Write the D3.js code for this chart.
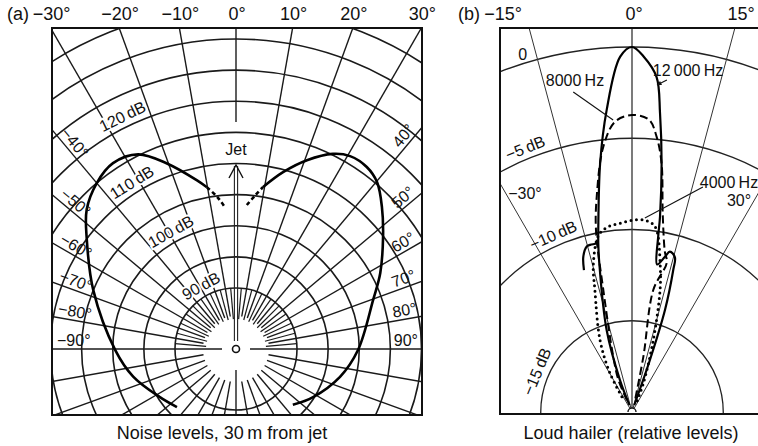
<!DOCTYPE html>
<html><head><meta charset="utf-8">
<script src="https://cdn.jsdelivr.net/npm/d3@7"></script>
<style>
body{margin:0;background:#fff}
svg{display:block}
text{font-family:"Liberation Sans",Arial,Helvetica,sans-serif;fill:#111}
</style>
</head><body>
<svg id="c" width="758" height="446"></svg>
<script>
// ---------- DATA ----------
// Panel (a): jet noise, angle (deg from jet axis) and level (dB)
const topAnglesA = [-30, -20, -10, 0, 10, 20, 30];
const sideAnglesLeftA = [-40, -50, -60, -70, -80, -90];
const sideAnglesRightA = [40, 50, 60, 70, 80, 90];
const ringsA = [90, 95, 100, 105, 110, 115, 120, 125, 130, 135];
const ringLabelValuesA = [90, 100, 110, 120];
const jetLeftSolid = [[-134.5,93.5],[-122,94.7],[-105,97.3],[-90.5,99.6],[-67.6,105],[-53.8,109.9],[-47,113],[-40,115],[-33.5,116],[-26.7,115.2],[-20.4,112],[-13,108],[-10.2,106.6]];
const jetLeftDashed = [[-10.2,106.6],[-7,104.8],[-4.4,103]];
const jetRightDashed = [[4.3,103.4],[7,105],[9.5,106.6]];
const jetRightSolid = [[9.5,106.6],[14.9,109.6],[20.6,112.6],[26.4,115.2],[30.6,116.2],[35.7,116.2],[40.2,115.3],[45.8,112.9],[52.7,109.9],[62.2,106.4],[70.3,103.6],[90.5,99.8],[105,97.5],[122,94.8],[134.5,93]];

// Panel (b): loud hailer, angle (deg) and relative level (dB)
const ringsB = [0, -5, -10, -15];
const spokesB = [-30, -15, 0, 15, 30];
const hz12000 = [[-20,-19.6],[-20.6,-18.1],[-17.2,-15.3],[-12.4,-11.66],[-11.3,-10.57],[-10.5,-9.86],[-7.3,-6.26],[-4.8,-3.4],[-1.9,-0.52],[0,0],[1.9,-0.52],[4.2,-1.6],[5.36,-3.56],[6.8,-6.3],[8.16,-9.19],[8.5,-10.3],[9.65,-11.8],[12,-11.3],[13.3,-10.97],[15.5,-11.2],[16.2,-11.9],[17.9,-14.1],[19,-17],[18,-19.6]];
const hz12000Hook = [[-11.3,-10.57],[-14.1,-10.56],[-15.3,-10.6],[-17.4,-11.08],[-18.7,-11.79]];
const hz8000 = [[-23,-19.3],[-23,-18.1],[-18.7,-16.8],[-13.2,-13.1],[-11.2,-9.84],[-9.3,-8.04],[-6.17,-5.38],[-3.35,-4.07],[0,-3.73],[3.3,-3.95],[5.1,-4.85],[6.8,-6.3],[8.8,-9.0],[11.5,-11.0],[13.1,-11.6],[9.9,-13.2],[11.6,-16.9],[14,-19.3]];
const hz4000 = [[-33.7,-19],[-29.4,-17.5],[-24,-15.7],[-16.9,-13],[-14.6,-11.6],[-10.5,-10.1],[-7,-9.75],[-3.6,-9.64],[0,-9.5],[3.4,-9.46],[6,-9.6],[7.7,-9.93],[10.7,-11.7],[12.9,-13.1],[16.5,-15.9],[21.5,-18.3],[25,-19.4]];

// ---------- DRAWING ----------
const svg = d3.select("#c");
const R = Math.PI / 180;
const pol = (cx, cy, r, a) => [cx + r * Math.sin(a * R), cy - r * Math.cos(a * R)];

// ===== Panel (a) =====
const A = {x0: 52, y0: 28, x1: 422, y1: 415, cx: 236, cy: 349};
const rA = d3.scaleLinear().domain([90, 130]).range([61, 310]);
svg.append("clipPath").attr("id", "clipA").append("rect")
  .attr("x", A.x0).attr("y", A.y0).attr("width", A.x1 - A.x0).attr("height", A.y1 - A.y0);
const gA = svg.append("g").attr("clip-path", "url(#clipA)");
const gAc = gA.append("g").attr("transform", `translate(${A.cx},${A.cy})`);

gAc.selectAll("circle.ring").data(ringsA).join("circle")
  .attr("r", d => rA(d)).attr("fill", "none").attr("stroke", "#1a1a1a").attr("stroke-width", 1.6);

const spokeA = d3.range(-170, 181, 10).filter(a => a !== 0);
const innerR = a => Math.abs(a) === 90 ? 14 : (a === 180 ? 21 : 33);
gAc.selectAll("line.sp").data(spokeA).join("line")
  .attr("x1", a => pol(0, 0, innerR(a), a)[0]).attr("y1", a => pol(0, 0, innerR(a), a)[1])
  .attr("x2", a => pol(0, 0, 520, a)[0]).attr("y2", a => pol(0, 0, 520, a)[1])
  .attr("stroke", "#1a1a1a").attr("stroke-width", 1.4);
const fineA = d3.range(-85, 90, 10);
gAc.selectAll("line.fs").data(fineA).join("line")
  .attr("x1", a => pol(0, 0, 30, a)[0]).attr("y1", a => pol(0, 0, 30, a)[1])
  .attr("x2", a => pol(0, 0, 61, a)[0]).attr("y2", a => pol(0, 0, 61, a)[1])
  .attr("stroke", "#1a1a1a").attr("stroke-width", 1.2);
gAc.append("line").attr("x1", 0).attr("y1", -227).attr("x2", 0).attr("y2", -400)
  .attr("stroke", "#1a1a1a").attr("stroke-width", 1.4);

// jet arrow
gAc.append("line").attr("x1", -1.6).attr("x2", -1.6).attr("y1", -8).attr("y2", -183).attr("stroke", "#222").attr("stroke-width", 1.1);
gAc.append("line").attr("x1", 1.6).attr("x2", 1.6).attr("y1", -8).attr("y2", -183).attr("stroke", "#222").attr("stroke-width", 1.1);
gAc.append("path").attr("d", "M-7,-171 L0,-184 L7,-171").attr("fill", "none").attr("stroke", "#111").attr("stroke-width", 1.4);
gAc.append("circle").attr("r", 3.5).attr("fill", "#fff").attr("stroke", "#111").attr("stroke-width", 1.6);

const lineA = d3.lineRadial().angle(d => d[0] * R).radius(d => rA(d[1])).curve(d3.curveCatmullRom.alpha(0.5));
[[jetLeftSolid, null], [jetRightSolid, null], [jetLeftDashed, "4,3"], [jetRightDashed, "4,3"]].forEach(([d, dash]) => {
  gAc.append("path").attr("d", lineA(d)).attr("fill", "none").attr("stroke", "#000")
    .attr("stroke-width", 2.6).attr("stroke-dasharray", dash);
});

svg.append("rect").attr("x", A.x0).attr("y", A.y0).attr("width", A.x1 - A.x0).attr("height", A.y1 - A.y0)
  .attr("fill", "none").attr("stroke", "#111").attr("stroke-width", 2);

// labels (a)
svg.append("text").attr("x", 7).attr("y", 20).attr("font-size", 18).text("(a)");
svg.selectAll("text.ta").data(topAnglesA).join("text")
  .attr("x", a => A.cx + (A.cy - A.y0) * Math.tan(a * R) + 1).attr("y", 20)
  .attr("text-anchor", "middle").attr("font-size", 18)
  .text(a => (a < 0 ? "\u2212" + (-a) : a) + "\u00b0");
sideAnglesRightA.forEach(a => {
  const r = (418 - A.cx) / Math.sin(a * R);
  const p = pol(A.cx, A.cy, r, a);
  const n = [-Math.cos(a * R), -Math.sin(a * R)];
  const x = p[0] + 9 * n[0], y = p[1] + 9 * n[1];
  svg.append("text").attr("x", x).attr("y", y).attr("text-anchor", "end").attr("dominant-baseline", "central")
    .attr("font-size", 16).attr("transform", `rotate(${a - 90},${x},${y})`)
    .text(a + "\u00b0");
});
sideAnglesLeftA.forEach(a => {
  const t = -a;
  const r = (A.cx - 57) / Math.sin(t * R);
  const p = pol(A.cx, A.cy, r, a);
  const n = [Math.cos(t * R), -Math.sin(t * R)];
  const x = p[0] + 9 * n[0], y = p[1] + 9 * n[1];
  svg.append("text").attr("x", x).attr("y", y).attr("text-anchor", "start").attr("dominant-baseline", "central")
    .attr("font-size", 16).attr("transform", `rotate(${90 - t},${x},${y})`)
    .text("\u2212" + t + "\u00b0");
});
const ringLabelAngle = {90: -29, 100: -29, 110: -32, 120: -26};
ringLabelValuesA.forEach(v => {
  const a = ringLabelAngle[v];
  const p = pol(A.cx, A.cy, rA(v) + 11, a);
  svg.append("text").attr("x", p[0]).attr("y", p[1]).attr("text-anchor", "middle").attr("dominant-baseline", "central")
    .attr("font-size", 16).attr("transform", `rotate(${a},${p[0]},${p[1]})`)
    .attr("stroke", "#fff").attr("stroke-width", 4).attr("paint-order", "stroke")
    .text(v + "\u2009dB");
});
svg.append("text").attr("x", A.cx).attr("y", 155).attr("text-anchor", "middle").attr("font-size", 16).text("Jet");
svg.append("text").attr("x", 222).attr("y", 439).attr("text-anchor", "middle").attr("font-size", 18).text("Noise levels, 30\u2009m from jet");

// ===== Panel (b) =====
const B = {x0: 500, y0: 28, x1: 762, y1: 414, cx: 632, cy: 412};
const rB = d3.scaleLinear().domain([-20, 0]).range([0, 365]);
svg.append("clipPath").attr("id", "clipB").append("rect")
  .attr("x", B.x0).attr("y", B.y0).attr("width", B.x1 - B.x0).attr("height", B.y1 - B.y0);
const gB = svg.append("g").attr("clip-path", "url(#clipB)");
const gBc = gB.append("g").attr("transform", `translate(${B.cx},${B.cy})`);
gBc.selectAll("circle.ring").data(ringsB).join("circle")
  .attr("r", d => rB(d)).attr("fill", "none").attr("stroke", "#222").attr("stroke-width", 1.3);
gBc.selectAll("line.sp").data(spokesB).join("line")
  .attr("x1", a => pol(0, 0, 4, a)[0]).attr("y1", a => pol(0, 0, 4, a)[1])
  .attr("x2", a => pol(0, 0, 520, a)[0]).attr("y2", a => pol(0, 0, 520, a)[1])
  .attr("stroke", "#333").attr("stroke-width", a => a === 0 ? 1.3 : 1);
gBc.append("path").attr("d", "M-4,0 A4,4 0 0 1 4,0").attr("fill", "#fff").attr("stroke", "#111").attr("stroke-width", 1.4);

const lineB = d3.lineRadial().angle(d => d[0] * R).radius(d => rB(d[1])).curve(d3.curveCatmullRom.alpha(0.5));
gBc.append("path").attr("d", lineB(hz4000)).attr("fill", "none").attr("stroke", "#000")
  .attr("stroke-width", 3).attr("stroke-linecap", "round").attr("stroke-dasharray", "0,5.5");
gBc.append("path").attr("d", lineB(hz8000)).attr("fill", "none").attr("stroke", "#000")
  .attr("stroke-width", 2).attr("stroke-dasharray", "8,4");
gBc.append("path").attr("d", lineB(hz12000)).attr("fill", "none").attr("stroke", "#000").attr("stroke-width", 2.2);
gBc.append("path").attr("d", lineB(hz12000Hook)).attr("fill", "none").attr("stroke", "#000").attr("stroke-width", 2.2);

svg.append("path").attr("d", `M${B.x1},${B.y0} H${B.x0} V${B.y1} H${B.x1}`)
  .attr("fill", "none").attr("stroke", "#111").attr("stroke-width", 2);

// labels (b)
svg.append("text").attr("x", 458).attr("y", 20).attr("font-size", 18).text("(b)");
[["\u221215\u00b0", 503], ["0\u00b0", 634], ["15\u00b0", 741]].forEach(([t, x]) =>
  svg.append("text").attr("x", x).attr("y", 20).attr("text-anchor", "middle").attr("font-size", 18).text(t));
const ringLabB = [["0", -17, rB(0) + 9, false], ["\u22125\u2009dB", -22, rB(-5) + 11, true], ["\u221210\u2009dB", -24, rB(-10) + 11, true], ["\u221215\u2009dB", -67, rB(-15) + 12, true]];
ringLabB.forEach(([t, a, r, rot]) => {
  const p = pol(B.cx, B.cy, r, a);
  svg.append("text").attr("x", p[0]).attr("y", p[1]).attr("text-anchor", "middle").attr("dominant-baseline", "central")
    .attr("font-size", 16).attr("transform", rot ? `rotate(${a},${p[0]},${p[1]})` : null).text(t);
});
svg.append("text").attr("x", 525).attr("y", 193).attr("text-anchor", "middle").attr("dominant-baseline", "central").attr("font-size", 16).text("\u221230\u00b0");
svg.append("text").attr("x", 739).attr("y", 200).attr("text-anchor", "middle").attr("dominant-baseline", "central").attr("font-size", 16).text("30\u00b0");
svg.append("text").attr("x", 729).attr("y", 182).attr("text-anchor", "middle").attr("dominant-baseline", "central").attr("font-size", 16).text("4000\u2009Hz");
svg.append("text").attr("x", 575).attr("y", 80).attr("text-anchor", "middle").attr("dominant-baseline", "central").attr("font-size", 16).text("8000\u2009Hz");
svg.append("text").attr("x", 688).attr("y", 70).attr("text-anchor", "middle").attr("dominant-baseline", "central").attr("font-size", 16).text("12\u2009000\u2009Hz");
// leaders, expressed in panel (b) polar coordinates
const leader = (a1, d1, a2, d2) => [pol(B.cx, B.cy, rB(d1), a1), pol(B.cx, B.cy, rB(d2), a2)];
[leader(-10.4, -2.17, -3.7, -3.97), leader(17.5, -7.07, 3.8, -9.35)].forEach(([p, q]) =>
  svg.append("line").attr("x1", p[0]).attr("y1", p[1]).attr("x2", q[0]).attr("y2", q[1]).attr("stroke", "#111").attr("stroke-width", 1.1));
{
  const [p, q] = leader(6.0, -1.71, 4.37, -2.03);
  svg.append("line").attr("x1", p[0]).attr("y1", p[1]).attr("x2", q[0]).attr("y2", q[1]).attr("stroke", "#111").attr("stroke-width", 1.2);
  const ang = Math.atan2(q[1] - p[1], q[0] - p[0]);
  const s = 5;
  const a1 = [q[0] - s * Math.cos(ang - 0.45), q[1] - s * Math.sin(ang - 0.45)];
  const a2 = [q[0] - s * Math.cos(ang + 0.45), q[1] - s * Math.sin(ang + 0.45)];
  svg.append("path").attr("d", `M${q[0]},${q[1]}L${a1[0]},${a1[1]}L${a2[0]},${a2[1]}Z`).attr("fill", "#111");
}
svg.append("text").attr("x", 631).attr("y", 439).attr("text-anchor", "middle").attr("font-size", 18).text("Loud hailer (relative levels)");
</script>
</body></html>
